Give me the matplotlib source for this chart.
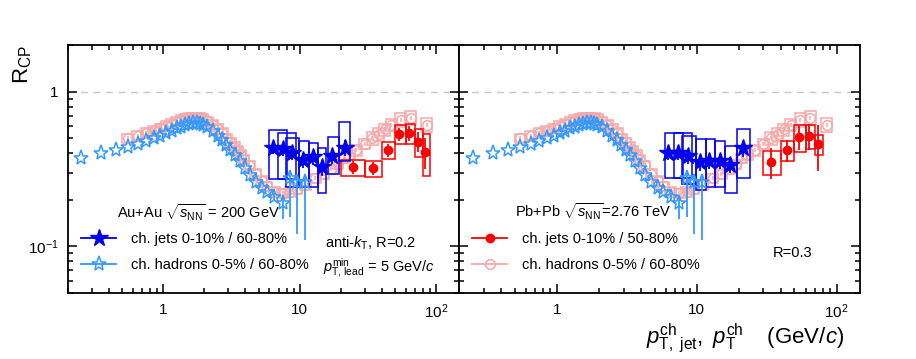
import numpy as np
import matplotlib.pyplot as plt
from matplotlib.patches import Rectangle
from matplotlib.lines import Line2D
from matplotlib.ticker import FixedLocator, FixedFormatter, LogLocator, NullFormatter

plt.rcParams['font.family'] = ['Liberation Sans', 'DejaVu Sans']
plt.rcParams['mathtext.fontset'] = 'custom'
plt.rcParams['mathtext.rm'] = 'Liberation Sans'
plt.rcParams['mathtext.it'] = 'Liberation Sans:italic'
plt.rcParams['mathtext.bf'] = 'Liberation Sans:bold'

# STAR charged hadrons 0-5% / 60-80% (same in both panels)
star_had_pt = [0.25, 0.35, 0.45, 0.55, 0.65, 0.75, 0.85, 0.95, 1.05, 1.15, 1.25, 1.35,
               1.45, 1.55, 1.65, 1.75, 1.85, 1.95, 2.1, 2.3, 2.5, 2.7, 2.9, 3.1, 3.35,
               3.65, 3.95, 4.3, 4.75, 5.25, 5.75, 6.5, 7.5, 8.5, 9.5, 11.0]
star_had_rcp = [0.37, 0.40, 0.42, 0.44, 0.46, 0.48, 0.50, 0.52, 0.54, 0.56, 0.58, 0.59,
                0.61, 0.62, 0.63, 0.63, 0.62, 0.61, 0.59, 0.56, 0.52, 0.49, 0.455, 0.42, 0.39,
                0.355, 0.32, 0.29, 0.26, 0.24, 0.225, 0.21, 0.19, 0.275, 0.26, 0.26]
star_had_elo = [0.0] * 31 + [0.01, 0.04, 0.12, 0.14, 0.15]
star_had_ehi = [0.0] * 31 + [0.01, 0.02, 0.03, 0.03, 0.03]

# ALICE charged hadrons 0-5% / 60-80% (same in both panels)
alice_had_pt = [0.55, 0.65, 0.75, 0.85, 0.95, 1.05, 1.15, 1.25, 1.35, 1.45, 1.55, 1.65,
                1.75, 1.85, 1.95, 2.1, 2.3, 2.5, 2.7, 2.9, 3.1, 3.3, 3.5, 3.7, 3.9, 4.25,
                4.75, 5.25, 5.75, 6.5, 7.5, 8.5, 9.5, 11, 13, 15, 17, 19, 21, 23, 26, 30,
                34, 38, 42, 47, 55, 65, 85]
alice_had_rcp = [0.50, 0.52, 0.54, 0.56, 0.58, 0.60, 0.62, 0.64, 0.655, 0.665, 0.675, 0.68,
                 0.68, 0.675, 0.665, 0.645, 0.61, 0.575, 0.54, 0.50, 0.47, 0.44, 0.415, 0.39,
                 0.365, 0.335, 0.295, 0.265, 0.245, 0.225, 0.22, 0.225, 0.235, 0.25, 0.275,
                 0.295, 0.315, 0.34, 0.37, 0.39, 0.42, 0.46, 0.50, 0.53, 0.57, 0.61, 0.66,
                 0.68, 0.61]
alice_had_sys = [0.07] * 40 + [0.08, 0.08, 0.09, 0.09, 0.09, 0.09, 0.10, 0.10, 0.10]

# STAR charged jets 0-10% / 60-80%, anti-kT R=0.2 (left) and R=0.3 (right)
star_jet_pt_l = [6.38, 7.48, 8.79, 10.57, 12.5, 14.6, 17.3, 21.3]
star_jet_rcp_l = [0.435, 0.425, 0.40, 0.363, 0.376, 0.324, 0.381, 0.435]
star_jet_err_l = [0.04, 0.04, 0.04, 0.04, 0.04, 0.04, 0.04, 0.05]
star_jet_ylo_l = [0.273, 0.273, 0.241, 0.241, 0.241, 0.222, 0.294, 0.357]
star_jet_yhi_l = [0.563, 0.543, 0.505, 0.48, 0.469, 0.435, 0.51, 0.636]
star_jet_xlo_l = [5.96, 6.87, 7.9, 9.9, 11.6, 13.6, 16.0, 19.5]
star_jet_xhi_l = [8.0, 9.35, 9.9, 11.6, 13.6, 15.5, 19.5, 23.5]

star_jet_pt_r = [6.24, 7.35, 8.66, 10.5, 12.2, 14.6, 17.4, 21.4]
star_jet_rcp_r = [0.404, 0.404, 0.381, 0.349, 0.357, 0.357, 0.336, 0.43]
star_jet_err_r = [0.04, 0.04, 0.04, 0.04, 0.04, 0.04, 0.04, 0.05]
star_jet_ylo_r = [0.277, 0.277, 0.254, 0.233, 0.241, 0.241, 0.222, 0.277]
star_jet_yhi_r = [0.543, 0.543, 0.517, 0.497, 0.493, 0.48, 0.446, 0.577]
star_jet_xlo_r = [5.9, 6.9, 7.9, 9.9, 11.6, 13.6, 16.0, 19.5]
star_jet_xhi_r = [8.0, 9.3, 9.9, 11.6, 13.6, 16.0, 19.5, 24.0]

# ALICE charged jets 0-10% / 50-80%
alice_jet_pt_l = [24.5, 34.3, 44.1, 53.7, 63.5, 73.1, 83.1]
alice_jet_rcp_l = [0.324, 0.319, 0.419, 0.53, 0.538, 0.476, 0.408]
alice_jet_err_l = [0.03, 0.03, 0.04, 0.05, 0.06, 0.07, 0.09]
alice_jet_sys_l = [0.12, 0.12, 0.12, 0.14, 0.15, 0.2, 0.3]
alice_jet_edges_l = [20, 30, 40, 50, 60, 70, 80, 90]

alice_jet_pt_r = [34.2, 44.2, 53.8, 63.4, 73.5]
alice_jet_rcp_r = [0.352, 0.419, 0.51, 0.517, 0.457]
alice_jet_err_r = [0.08, 0.07, 0.09, 0.1, 0.15]
alice_jet_sys_r = [0.18, 0.15, 0.2, 0.18, 0.15]
alice_jet_edges_r = [30, 40, 50, 60, 70, 80]

BLUE = '#0000ee'
LBLUE = '#3399ff'
RED = '#ff0000'
PINK = '#f7a8a8'
HAD_BOX = 0.04   # half-width of hadron boxes in log10(pT)


def boxes(ax, xlo, xhi, ylo, yhi, color, z):
    for a, b, c, d in zip(xlo, xhi, ylo, yhi):
        ax.add_patch(Rectangle((a, c), b - a, d - c, fill=False, edgecolor=color,
                               lw=1.1, zorder=z))


def draw_common(ax):
    x = np.array(alice_had_pt)
    y = np.array(alice_had_rcp)
    s = np.array(alice_had_sys)
    boxes(ax, x * 10**-HAD_BOX, x * 10**HAD_BOX, y * (1 - s), y * (1 + s), PINK, 1)
    ax.errorbar(x, y, yerr=0.03 * y, fmt='o', ms=7, mfc='none', mec=PINK, mew=1.1,
                color=PINK, elinewidth=1.1, capsize=0, zorder=2)
    ax.errorbar(star_had_pt, star_had_rcp, yerr=[star_had_elo, star_had_ehi], fmt='*',
                ms=11, mfc='none', mec=LBLUE, mew=1.1, color=LBLUE, elinewidth=1.3,
                capsize=0, zorder=6)


fig = plt.figure(figsize=(9.16, 3.59), dpi=100)
axl = fig.add_axes([68 / 916, 66 / 359, 391 / 916, 248 / 359])
axr = fig.add_axes([459 / 916, 66 / 359, 401 / 916, 248 / 359])

# left panel
draw_common(axl)
e = np.array(alice_jet_edges_l)
yl = np.array(alice_jet_rcp_l)
boxes(axl, e[:-1], e[1:], yl * (1 - np.array(alice_jet_sys_l)),
      yl * (1 + np.array(alice_jet_sys_l)), RED, 3)
axl.errorbar(alice_jet_pt_l, alice_jet_rcp_l, yerr=alice_jet_err_l, fmt='o', ms=6,
             color=RED, elinewidth=1.3, capsize=0, zorder=4)
boxes(axl, star_jet_xlo_l, star_jet_xhi_l, star_jet_ylo_l, star_jet_yhi_l, BLUE, 5)
axl.errorbar(star_jet_pt_l, star_jet_rcp_l, yerr=star_jet_err_l, fmt='*', ms=13,
             color=BLUE, elinewidth=1.3, capsize=0, zorder=7)

# right panel
draw_common(axr)
e = np.array(alice_jet_edges_r)
yr = np.array(alice_jet_rcp_r)
boxes(axr, e[:-1], e[1:], yr * (1 - np.array(alice_jet_sys_r)),
      yr * (1 + np.array(alice_jet_sys_r)), RED, 3)
axr.errorbar(alice_jet_pt_r, alice_jet_rcp_r, yerr=alice_jet_err_r, fmt='o', ms=6,
             color=RED, elinewidth=1.3, capsize=0, zorder=4)
boxes(axr, star_jet_xlo_r, star_jet_xhi_r, star_jet_ylo_r, star_jet_yhi_r, BLUE, 5)
axr.errorbar(star_jet_pt_r, star_jet_rcp_r, yerr=star_jet_err_r, fmt='*', ms=13,
             color=BLUE, elinewidth=1.3, capsize=0, zorder=7)

for ax in (axl, axr):
    ax.set_xscale('log')
    ax.set_yscale('log')
    ax.set_xlim(0.2, 147)
    ax.set_ylim(0.05, 2.0)
    ax.axhline(1.0, color='#c8c8c8', lw=1, ls=(0, (5, 4)), zorder=0)
    ax.xaxis.set_major_locator(FixedLocator([1, 10, 100]))
    ax.xaxis.set_major_formatter(FixedFormatter(['1', '10', r'$10^2$']))
    ax.xaxis.set_minor_locator(LogLocator(subs=np.arange(2, 10), numticks=20))
    ax.xaxis.set_minor_formatter(NullFormatter())
    ax.yaxis.set_major_locator(FixedLocator([0.1, 1]))
    ax.yaxis.set_minor_locator(LogLocator(subs=np.arange(2, 10), numticks=20))
    ax.yaxis.set_minor_formatter(NullFormatter())
    ax.tick_params(which='both', direction='in', top=True, right=True, width=1.1,
                   labelsize=11, pad=7)
    ax.tick_params(which='major', length=6.5)
    ax.tick_params(which='minor', length=3.3)
    for sp in ax.spines.values():
        sp.set_linewidth(1.3)

axl.yaxis.set_major_formatter(FixedFormatter([r'$10^{-1}$', '1']))
axr.yaxis.set_major_formatter(NullFormatter())

# texts
axl.text(0.125, 0.323, r'Au+Au $\sqrt{s_{\mathrm{NN}}}$ = 200 GeV', transform=axl.transAxes,
         fontsize=10.5, va='center')
axl.text(0.657, 0.2, r'anti-$k_{\mathrm{T}}$, R=0.2', transform=axl.transAxes,
         fontsize=10.5, va='center')
axl.text(0.652, 0.1, r'$p_{\mathrm{T,\,lead}}^{\mathrm{min}}$ = 5 GeV/$c$',
         transform=axl.transAxes, fontsize=10.5, va='center')
axr.text(0.14, 0.327, r'Pb+Pb $\sqrt{s_{\mathrm{NN}}}$=2.76 TeV', transform=axr.transAxes,
         fontsize=10.5, va='center')
axr.text(0.783, 0.161, 'R=0.3', transform=axr.transAxes, fontsize=10.5, va='center')

hl = [Line2D([], [], color=BLUE, marker='*', ms=13, lw=1.3),
      Line2D([], [], color=LBLUE, marker='*', ms=11, mfc='none', mew=1.1, lw=1.3)]
axl.legend(hl, ['ch. jets 0-10% / 60-80%', 'ch. hadrons 0-5% / 60-80%'],
           loc='lower left', bbox_to_anchor=(0.0, 0.03), frameon=False, fontsize=10.5,
           handlelength=2.4, labelspacing=0.85, handletextpad=1.0)
hr = [Line2D([], [], color=RED, marker='o', ms=6, lw=1.3),
      Line2D([], [], color=PINK, marker='o', ms=7, mfc='none', mew=1.1, lw=1.3)]
axr.legend(hr, ['ch. jets 0-10% / 50-80%', 'ch. hadrons 0-5% / 60-80%'],
           loc='lower left', bbox_to_anchor=(0.0, 0.03), frameon=False, fontsize=10.5,
           handlelength=2.4, labelspacing=0.85, handletextpad=1.0)

fig.text(0.922, 0.012,
         r'$p_{\mathrm{T,\ jet}}^{\mathrm{ch}},\ p_{\mathrm{T}}^{\mathrm{ch}}\quad\;$(GeV/$c$)',
         fontsize=16, ha='right', va='bottom')
fig.text(0.012, 0.875, r'R$_{\mathrm{CP}}$', fontsize=16, rotation=90, ha='left', va='top')

fig.savefig('out.png', dpi=100)
